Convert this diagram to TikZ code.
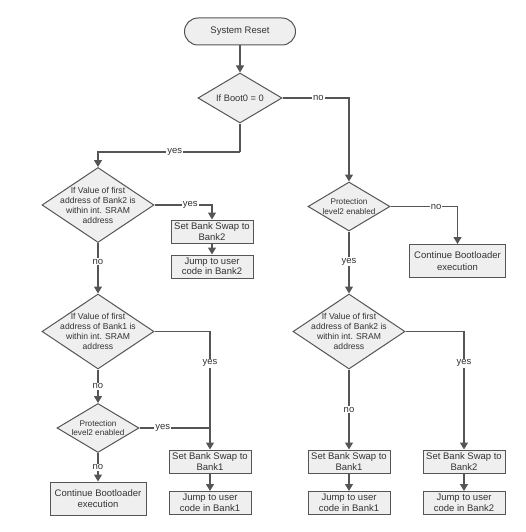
\documentclass[tikz,border=0pt]{standalone}
\usepackage{fontspec}
\setmainfont{Liberation Sans}
\usetikzlibrary{shapes.geometric,arrows.meta}
\definecolor{ln}{HTML}{555555}
\definecolor{fl}{HTML}{EFEFEF}
\definecolor{tx}{HTML}{333333}
\begin{document}
\begin{tikzpicture}[x=1pt,y=-1pt,
 every node/.style={text=tx},
 box/.style={draw=ln,fill=fl,line width=1pt,minimum width=82,minimum height=23,inner sep=0,align=center,font=\fontsize{9.5}{10.5}\selectfont},
 bigbox/.style={box,minimum width=96,minimum height=33,font=\fontsize{9.5}{11.5}\selectfont},
 term/.style={draw=ln,fill=fl,line width=1pt,rounded corners=13.5pt,minimum width=111,minimum height=27,inner sep=0,font=\fontsize{9.5}{11}\selectfont},
 dia/.style={draw=ln,fill=fl,line width=1pt,diamond,inner sep=0,minimum width=112,minimum height=75},
 pdia/.style={dia,minimum width=82,minimum height=49},
 dtext/.style={align=center,font=\fontsize{8.6}{10}\selectfont,inner sep=0},
 ptext/.style={align=center,font=\fontsize{8.2}{9.4}\selectfont,inner sep=0},
 arr/.style={draw=ln,line width=1.2pt,-{Triangle[width=8pt,length=7pt]}},
 conn/.style={draw=ln,line width=1.2pt},
 lab/.style={fill=white,inner sep=1pt,font=\fontsize{9.5}{10}\selectfont}
]
\useasboundingbox (0,0) rectangle (526,532);

% nodes
\node[term] (reset) at (240,31.5) {System Reset};
\node[dia,minimum width=84,minimum height=50,label={[dtext,font=\fontsize{9.3}{10}\selectfont]center:{If Boot0 = 0}}] (boot) at (240,98) {};

\node[dia,label={[dtext]center:{If Value of first\\address of Bank2 is\\within int. SRAM\\address}}] (d1) at (98,205) {};
\node[box] (bsw2) at (212,231.5) {Set Bank Swap to\\Bank2};
\node[box] (j2) at (212,266.5) {Jump to user\\code in Bank2};

\node[dia,label={[dtext]center:{If Value of first\\address of Bank1 is\\within int. SRAM\\address}}] (d2) at (98,331.5) {};
\node[pdia,label={[ptext]center:{Protection\\level2 enabled}}] (p1) at (98,428) {};
\node[bigbox] (cb1) at (98,498.5) {Continue Bootloader\\execution};
\node[box] (bsw1) at (210,461.5) {Set Bank Swap to\\Bank1};
\node[box] (j1) at (210,503) {Jump to user\\code in Bank1};

\node[pdia,label={[ptext]center:{Protection\\level2 enabled}}] (p2) at (349,206.5) {};
\node[bigbox] (cb2) at (457.5,261) {Continue Bootloader\\execution};
\node[dia,label={[dtext]center:{If Value of first\\address of Bank2 is\\within int. SRAM\\address}}] (d3) at (349,331.5) {};
\node[box] (bsw1r) at (349,461.5) {Set Bank Swap to\\Bank1};
\node[box] (j1r) at (349,503) {Jump to user\\code in Bank1};
\node[box] (bsw2r) at (464,461.5) {Set Bank Swap to\\Bank2};
\node[box] (j2r) at (464,503) {Jump to user\\code in Bank2};

\coordinate (c1) at (240,152);

% connectors
\draw[arr] (reset.south) -- (boot.north);
\draw[arr] (boot.east) -| node[lab,pos=0.27]{no} (p2.north);
\draw[conn] (boot.south) -- (c1);
\draw[arr] (c1) -| node[lab,pos=0.23]{yes} (d1.north);

\draw[arr] (d1.east) -| node[lab,pos=0.31]{yes} (bsw2.north);
\draw[arr] (bsw2.south) -- (j2.north);
\draw[arr] (d1.south) -- node[lab,pos=0.37]{no} (d2.north);

\draw[arr] (d2.east) -| node[lab,pos=0.635]{yes} (bsw1.north);
\draw[arr] (d2.south) -- node[lab,pos=0.5]{no} (p1.north);
\draw[conn] (p1.east) -- node[lab,pos=0.33]{yes} (p1.east -| bsw1.north);
\draw[arr] (p1.south) -- node[lab,pos=0.5]{no} (cb1.north);
\draw[arr] (bsw1.south) -- (j1.north);

\draw[arr] (p2.east) -| node[lab,pos=0.34]{no} (cb2.north);
\draw[arr] (p2.south) -- node[lab,pos=0.49]{yes} (d3.north);
\draw[arr] (d3.east) -| node[lab,pos=0.634]{yes} (bsw2r.north);
\draw[arr] (d3.south) -- node[lab,pos=0.5]{no} (bsw1r.north);
\draw[arr] (bsw1r.south) -- (j1r.north);
\draw[arr] (bsw2r.south) -- (j2r.north);
\end{tikzpicture}
\end{document}
